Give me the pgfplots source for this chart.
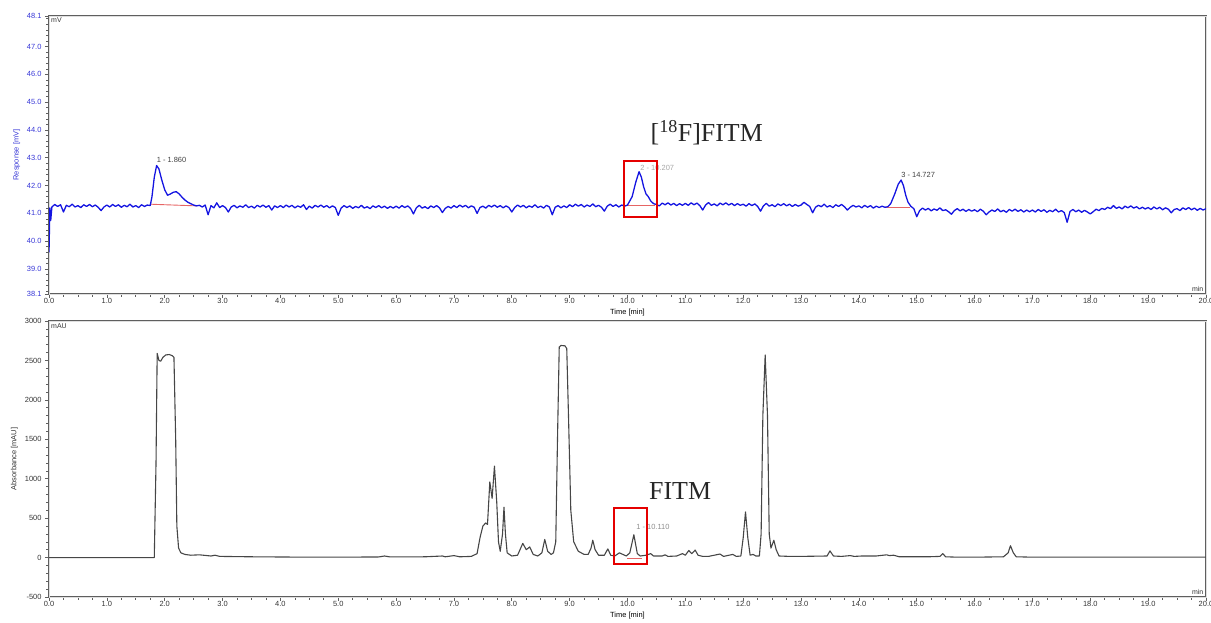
\documentclass[border=0pt]{standalone}
\usepackage{pgfplots}
\pgfplotsset{compat=1.18}
\usepackage{fontspec}
\setmainfont{Liberation Sans}
\newfontfamily\timesf{Liberation Serif}
\definecolor{sigblue}{RGB}{20,20,225}
\definecolor{tickblue}{RGB}{55,55,215}
\definecolor{baser}{RGB}{230,100,100}
\definecolor{frame}{RGB}{95,95,95}
\definecolor{uvgray}{RGB}{70,70,70}
\newcommand{\sm}{\fontsize{7.5}{9}\selectfont}
\pgfplotsset{chrom/.style={
  scale only axis, width=1157bp, xmin=0, xmax=20,
  xtick={0,1,...,20}, minor x tick num=3,
  tick align=outside, xtick pos=bottom, ytick pos=left,
  major tick length=4bp, minor tick length=2.5bp,
  every tick/.style={frame, line width=0.6bp},
  axis line style={draw=frame, line width=0.6bp, double=gray!25, double distance=0.9bp},
  xticklabel style={font=\sm, text=black!80, yshift=3bp, /pgf/number format/.cd, fixed, fixed zerofill, precision=1},
  /pgf/number format/assume math mode=true,
  /pgf/number format/1000 sep={},
  xlabel={Time [min]},
  xlabel style={font=\sm, yshift=2bp},
  clip=true,
}}
\begin{document}
\begin{tikzpicture}
% ---------------- top: radio detector ----------------
\begin{axis}[chrom, at={(49bp,-294bp)}, anchor=south west, height=278bp,
  ymin=38.1, ymax=48.1,
  ytick={38.1,39,40,41,42,43,44,45,46,47,48.1},
  minor ytick={38.2,38.4,38.6,38.8,39.2,39.4,39.6,39.8,40.2,40.4,40.6,40.8,41.2,41.4,41.6,41.8,42.2,42.4,42.6,42.8,43.2,43.4,43.6,43.8,44.2,44.4,44.6,44.8,45.2,45.4,45.6,45.8,46.2,46.4,46.6,46.8,47.2,47.4,47.6,47.8,48.0},
  yticklabel style={font=\sm, text=tickblue, /pgf/number format/.cd, fixed, fixed zerofill, precision=1},
  ylabel={Response [mV]}, ylabel style={font=\sm, text=tickblue},
]
\addplot[baser, line width=0.9bp] coordinates {(1.75,41.33)(2.55,41.27)};
\addplot[baser, line width=0.9bp] coordinates {(9.97,41.30)(10.48,41.30)};
\addplot[baser, line width=0.9bp] coordinates {(14.45,41.20)(14.88,41.20)};
\addplot[sigblue, line width=1.3bp, line join=round] coordinates {
(0,39.6)(0.015,41.2)(0.03,40.75)(0.05,41.23)(0.10,41.32)(0.15,41.25)(0.20,41.31)(0.25,41.05)(0.30,41.29)(0.35,41.24)(0.40,41.33)(0.45,41.23)(0.50,41.28)(0.55,41.21)(0.60,41.31)(0.65,41.25)(0.70,41.32)(0.75,41.24)(0.80,41.30)(0.85,41.22)(0.90,41.10)(0.95,41.23)
(1.00,41.30)(1.05,41.23)(1.10,41.32)(1.15,41.25)(1.20,41.31)(1.25,41.22)(1.30,41.29)(1.35,41.24)(1.40,41.33)(1.45,41.23)(1.50,41.28)(1.55,41.21)(1.60,41.31)(1.65,41.25)(1.70,41.30)(1.75,41.28)
(1.78,41.6)(1.82,42.3)(1.86,42.72)(1.90,42.6)(1.95,42.2)(2.00,41.85)(2.05,41.65)(2.10,41.70)(2.15,41.76)(2.20,41.78)(2.25,41.70)(2.30,41.58)(2.35,41.48)(2.40,41.40)(2.45,41.35)(2.50,41.30)(2.55,41.27)
(2.60,41.29)(2.65,41.23)(2.70,41.30)(2.75,40.95)(2.80,41.28)(2.85,41.20)(2.90,41.38)(2.95,41.21)
(3.00,41.28)(3.05,41.21)(3.10,41.05)(3.15,41.23)(3.20,41.29)(3.25,41.20)(3.30,41.27)(3.35,41.22)(3.40,41.31)(3.45,41.21)(3.50,41.26)(3.55,41.19)(3.60,41.29)(3.65,41.23)(3.70,41.30)(3.75,41.22)(3.80,41.28)(3.85,41.12)(3.90,41.27)(3.95,41.21)
(4.00,41.28)(4.05,41.21)(4.10,41.30)(4.15,41.23)(4.20,41.29)(4.25,41.20)(4.30,41.27)(4.35,41.22)(4.40,41.31)(4.45,41.14)(4.50,41.26)(4.55,41.19)(4.60,41.29)(4.65,41.23)(4.70,41.30)(4.75,41.22)(4.80,41.28)(4.85,41.20)(4.90,41.27)(4.95,41.21)
(5.00,40.93)(5.05,41.19)(5.10,41.28)(5.15,41.21)(5.20,41.27)(5.25,41.18)(5.30,41.25)(5.35,41.20)(5.40,41.29)(5.45,41.19)(5.50,41.24)(5.55,41.17)(5.60,41.27)(5.65,41.21)(5.70,41.28)(5.75,41.20)(5.80,41.26)(5.85,41.18)(5.90,41.25)(5.95,41.19)
(6.00,41.26)(6.05,41.19)(6.10,41.28)(6.15,41.21)(6.20,41.27)(6.25,41.18)(6.30,40.98)(6.35,41.20)(6.40,41.29)(6.45,41.19)(6.50,41.24)(6.55,41.17)(6.60,41.27)(6.65,41.21)(6.70,41.28)(6.75,41.20)(6.80,41.03)(6.85,41.18)(6.90,41.25)(6.95,41.19)
(7.00,41.28)(7.05,41.21)(7.10,41.30)(7.15,41.23)(7.20,41.29)(7.25,41.20)(7.30,41.27)(7.35,41.22)(7.40,41.00)(7.45,41.21)(7.50,41.26)(7.55,41.19)(7.60,41.29)(7.65,41.23)(7.70,41.30)(7.75,41.22)(7.80,41.28)(7.85,41.20)(7.90,41.27)(7.95,41.21)
(8.00,41.05)(8.05,41.21)(8.10,41.30)(8.15,41.23)(8.20,41.29)(8.25,41.20)(8.30,41.27)(8.35,41.22)(8.40,41.31)(8.45,41.21)(8.50,41.26)(8.55,41.19)(8.60,41.29)(8.65,41.23)(8.70,40.95)(8.75,41.22)(8.80,41.28)(8.85,41.20)(8.90,41.27)(8.95,41.21)
(9.00,41.31)(9.05,41.24)(9.10,41.33)(9.15,41.26)(9.20,41.32)(9.25,41.23)(9.30,41.30)(9.35,41.25)(9.40,41.34)(9.45,41.24)(9.50,41.29)(9.55,41.22)(9.60,41.08)(9.65,41.26)(9.70,41.33)(9.75,41.25)(9.80,41.31)(9.85,41.23)(9.90,41.30)(9.95,41.26)
(10.00,41.30)(10.08,41.6)(10.14,42.1)(10.20,42.5)(10.24,42.3)(10.28,41.95)(10.32,41.7)(10.36,41.6)(10.40,41.45)(10.45,41.35)(10.50,41.32)
(10.55,41.27)(10.60,41.37)(10.65,41.31)(10.70,41.38)(10.75,41.30)(10.80,41.36)(10.85,41.28)(10.90,41.35)(10.95,41.29)
(11.00,41.36)(11.05,41.29)(11.10,41.38)(11.15,41.31)(11.20,41.37)(11.25,41.28)(11.30,41.12)(11.35,41.30)(11.40,41.39)(11.45,41.29)(11.50,41.34)(11.55,41.27)(11.60,41.37)(11.65,41.31)(11.70,41.38)(11.75,41.30)(11.80,41.36)(11.85,41.28)(11.90,41.35)(11.95,41.29)
(12.00,41.33)(12.05,41.26)(12.10,41.35)(12.15,41.28)(12.20,41.34)(12.25,41.25)(12.30,41.08)(12.35,41.27)(12.40,41.36)(12.45,41.26)(12.50,41.31)(12.55,41.24)(12.60,41.34)(12.65,41.28)(12.70,41.35)(12.75,41.27)(12.80,41.33)(12.85,41.25)(12.90,41.32)(12.95,41.26)
(13.00,41.30)(13.05,41.40)(13.10,41.32)(13.15,41.25)(13.20,41.02)(13.25,41.22)(13.30,41.29)(13.35,41.24)(13.40,41.33)(13.45,41.23)(13.50,41.28)(13.55,41.21)(13.60,41.31)(13.65,41.25)(13.70,41.32)(13.75,41.24)(13.80,41.12)(13.85,41.22)(13.90,41.29)(13.95,41.23)
(14.00,41.27)(14.05,41.20)(14.10,41.29)(14.15,41.22)(14.20,41.28)(14.25,41.19)(14.30,41.26)(14.35,41.21)(14.40,41.26)(14.45,41.22)
(14.50,41.24)(14.55,41.35)(14.62,41.7)(14.68,42.05)(14.73,42.2)(14.77,42.0)(14.81,41.65)(14.85,41.4)(14.90,41.25)(14.95,41.17)
(15.00,40.88)(15.05,41.10)(15.10,41.19)(15.15,41.12)(15.20,41.18)(15.25,41.09)(15.30,41.16)(15.35,41.11)(15.40,41.20)(15.45,41.10)(15.50,41.13)(15.55,41.06)(15.60,40.97)(15.65,41.10)(15.70,41.17)(15.75,41.09)(15.80,41.15)(15.85,41.07)(15.90,41.14)(15.95,41.08)
(16.00,41.13)(16.05,41.06)(16.10,41.15)(16.15,41.08)(16.20,40.95)(16.25,41.05)(16.30,41.12)(16.35,41.07)(16.40,41.16)(16.45,41.06)(16.50,41.11)(16.55,41.04)(16.60,41.14)(16.65,41.08)(16.70,41.15)(16.75,41.07)(16.80,41.13)(16.85,41.05)(16.90,41.12)(16.95,41.06)
(17.00,41.12)(17.05,41.05)(17.10,41.14)(17.15,41.07)(17.20,41.13)(17.25,41.04)(17.30,41.11)(17.35,41.06)(17.40,41.15)(17.45,41.05)(17.50,41.10)(17.55,41.03)(17.60,40.68)(17.65,41.07)(17.70,41.14)(17.75,41.06)(17.80,41.12)(17.85,41.04)(17.90,41.11)(17.95,41.05)
(18.00,40.98)(18.05,41.06)(18.10,41.15)(18.15,41.10)(18.20,41.18)(18.25,41.14)(18.30,41.22)(18.35,41.17)(18.40,41.28)(18.45,41.18)(18.50,41.23)(18.55,41.16)(18.60,41.26)(18.65,41.20)(18.70,41.27)(18.75,41.19)(18.80,41.24)(18.85,41.16)(18.90,41.22)(18.95,41.16)
(19.00,41.21)(19.05,41.14)(19.10,41.23)(19.15,41.16)(19.20,41.22)(19.25,41.13)(19.30,41.20)(19.35,41.15)(19.40,41.02)(19.45,41.14)(19.50,41.17)(19.55,41.10)(19.60,41.20)(19.65,41.14)(19.70,41.21)(19.75,41.13)(19.80,41.19)(19.85,41.11)(19.90,41.18)(19.95,41.12)(20.00,41.17)
};
\node[anchor=west, font=\sm, text=black!75, inner sep=0pt] at (axis cs:1.86,42.92) {1 - 1.860};
\node[anchor=west, font=\sm, text=black!35, inner sep=0pt] at (axis cs:10.22,42.62) {2 - 10.207};
\node[anchor=west, font=\sm, text=black!75, inner sep=0pt] at (axis cs:14.73,42.38) {3 - 14.727};
\draw[red!90!black, line width=2.5bp] (axis cs:9.94,40.87) rectangle (axis cs:10.51,42.88);
\node[font=\timesf\fontsize{26}{30}\selectfont, text=black!85] at (axis cs:11.37,43.89) {[\textsuperscript{18}F]FITM};
\node[anchor=north west, font=\fontsize{7}{8}\selectfont, text=black!80, inner sep=2bp] at (rel axis cs:0,1) {mV};
\node[anchor=south east, font=\fontsize{7}{8}\selectfont, text=black!80, inner sep=2.5bp] at (rel axis cs:1,0) {min};
\end{axis}
% ---------------- bottom: UV detector ----------------
\begin{axis}[chrom, at={(49bp,-597bp)}, anchor=south west, height=276bp,
  ymin=-500, ymax=3000,
  ytick={-500,0,500,1000,1500,2000,2500,3000}, minor y tick num=4,
  yticklabel style={font=\sm, text=black!80},
  ylabel={Absorbance [mAU]}, ylabel style={font=\sm, text=black!80},
]
\addplot[uvgray, line width=1.1bp, line join=round] coordinates {
(0,0)(1.82,0)(1.85,1200)(1.87,2590)(1.90,2500)(1.93,2490)(1.97,2540)(2.02,2570)(2.08,2575)(2.13,2560)(2.16,2540)(2.19,1500)(2.21,400)(2.24,120)(2.28,60)(2.35,40)(2.45,30)(2.6,35)(2.8,20)(2.87,30)(2.95,15)(3.5,10)(4.5,5)(5.0,5)(5.7,8)(5.8,20)(5.9,8)(6.5,10)(6.8,20)(6.85,10)(7.0,25)(7.1,10)(7.3,15)(7.4,50)(7.45,250)(7.5,400)(7.55,440)(7.58,420)(7.62,960)(7.66,750)(7.70,1160)(7.74,700)(7.77,200)(7.80,80)(7.84,300)(7.865,640)(7.89,300)(7.92,60)(8.0,20)(8.1,30)(8.19,180)(8.25,100)(8.31,135)(8.37,40)(8.45,20)(8.52,60)(8.57,230)(8.62,80)(8.68,40)(8.72,60)(8.76,200)(8.79,1500)(8.82,2670)(8.85,2690)(8.92,2685)(8.95,2650)(8.98,1800)(9.02,600)(9.07,200)(9.15,80)(9.25,40)(9.32,40)(9.37,120)(9.40,220)(9.44,100)(9.5,30)(9.6,30)(9.66,110)(9.71,30)(9.78,20)(9.86,60)(9.92,40)(9.98,20)(10.04,60)(10.11,290)(10.17,50)(10.22,20)(10.32,30)(10.40,50)(10.45,20)(10.6,20)(10.65,35)(10.7,15)(10.85,20)(10.95,50)(11.0,30)(11.06,90)(11.11,50)(11.17,95)(11.22,30)(11.3,15)(11.4,15)(11.6,45)(11.66,15)(11.82,40)(11.88,15)(11.96,20)(12.0,250)(12.04,580)(12.08,250)(12.12,30)(12.17,40)(12.22,20)(12.28,20)(12.31,300)(12.34,1800)(12.38,2570)(12.42,1800)(12.45,300)(12.48,120)(12.53,220)(12.57,100)(12.62,20)(12.8,15)(13.0,15)(13.45,20)(13.5,85)(13.56,20)(13.7,15)(13.85,25)(13.92,15)(14.05,20)(14.3,20)(14.48,35)(14.53,25)(14.6,30)(14.7,10)(15.0,10)(15.2,10)(15.4,15)(15.45,50)(15.5,10)(15.7,5)(16.0,5)(16.5,10)(16.58,60)(16.62,150)(16.67,60)(16.72,10)(17.0,5)(18.0,5)(20,5)
};
\addplot[baser, line width=0.9bp] coordinates {(10.0,-10)(10.25,-10)};
\node[anchor=west, font=\sm, text=black!45, inner sep=0pt] at (axis cs:10.15,389) {1 - 10.110};
\draw[red!90!black, line width=2.5bp] (axis cs:9.77,-80) rectangle (axis cs:10.34,630);
\node[font=\timesf\fontsize{26}{30}\selectfont, text=black!85] at (axis cs:10.91,845) {FITM};
\node[anchor=north west, font=\fontsize{7}{8}\selectfont, text=black!80, inner sep=2bp] at (rel axis cs:0,1) {mAU};
\node[anchor=south east, font=\fontsize{7}{8}\selectfont, text=black!80, inner sep=2.5bp] at (rel axis cs:1,0) {min};
\end{axis}
\pgfresetboundingbox
\useasboundingbox (0bp,0bp) rectangle (1211bp,-623bp);
\end{tikzpicture}
\end{document}
